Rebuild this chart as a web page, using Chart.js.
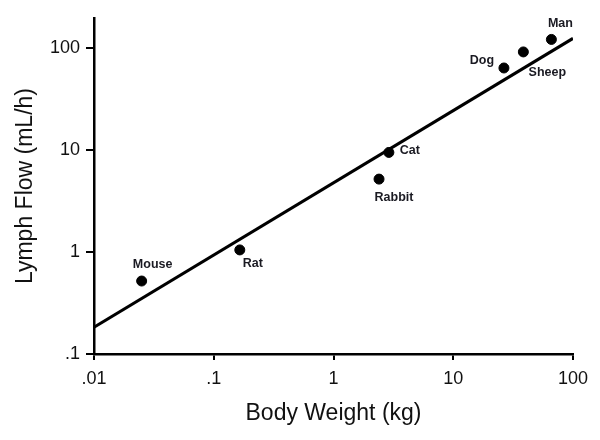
<!DOCTYPE html>
<html>
<head>
<meta charset="utf-8">
<script src="https://cdn.jsdelivr.net/npm/chart.js@4/dist/chart.umd.min.js"></script>
<style>
  html, body { margin: 0; padding: 0; background: #fff; }
  #wrap { width: 600px; height: 440px; }
</style>
</head>
<body>
<div id="wrap"><canvas id="visualization" width="600" height="440"></canvas></div>
<script>
// Species and their values
var species = ['Mouse', 'Rat', 'Rabbit', 'Cat', 'Dog', 'Sheep', 'Man'];
var bodyWeight = [0.025, 0.165, 2.4, 2.9, 26.5, 38.5, 66];   // kg
var lymphFlow = [0.52, 1.05, 5.2, 9.5, 64, 92, 122];          // mL/h

// Regression line end points
var fitX = [0.01, 100];
var fitY = [0.183, 125];

// Tick labels
var xTicks = [0.01, 0.1, 1, 10, 100];
var xTickLabels = ['.01', '.1', '1', '10', '100'];
var yTicks = [0.1, 1, 10, 100];
var yTickLabels = ['.1', '1', '10', '100'];

// where each name sits relative to its dot
var labelOffsets = {
    Mouse: [11, -16], Rat: [13, 14], Rabbit: [15, 18], Cat: [21, -2],
    Dog: [-22, -7], Sheep: [24, 21], Man: [9, -16]
};

var points = species.map(function(s, i) {
    return { x: bodyWeight[i], y: lymphFlow[i] };
});
var fitLine = fitX.map(function(x, i) { return { x: x, y: fitY[i] }; });

var FONT = '"Liberation Sans", Arial, sans-serif';

var pointLabels = {
    id: 'pointLabels',
    afterDatasetsDraw: function(chart) {
        var ctx = chart.ctx;
        var meta = chart.getDatasetMeta(1);
        ctx.save();
        ctx.font = 'bold 12.5px ' + FONT;
        ctx.fillStyle = '#1a1a22';
        ctx.textAlign = 'center';
        ctx.textBaseline = 'middle';
        meta.data.forEach(function(el, i) {
            var off = labelOffsets[species[i]];
            ctx.fillText(species[i], el.x + off[0], el.y + off[1]);
        });
        ctx.restore();
    }
};

function fixTicks(values) {
    return function(scale) {
        scale.ticks = values.map(function(v) { return { value: v }; });
    };
}

var ctx = document.getElementById('visualization').getContext('2d');
var myChart = new Chart(ctx, {
    type: 'scatter',
    data: {
        datasets: [{
            type: 'line',
            data: fitLine,
            borderColor: '#000',
            borderWidth: 3.2,
            pointRadius: 0,
            fill: false
        }, {
            data: points,
            backgroundColor: '#000',
            borderColor: '#000',
            pointRadius: 5,
            pointHoverRadius: 5
        }]
    },
    options: {
        responsive: false,
        animation: false,
        layout: { padding: { top: 18, right: 27, left: 0, bottom: 0 } },
        plugins: {
            legend: { display: false },
            tooltip: { enabled: false }
        },
        scales: {
            x: {
                type: 'logarithmic',
                min: 0.01,
                max: 100,
                afterBuildTicks: fixTicks(xTicks),
                afterFit: function(scale) { scale.height = 86; },
                border: { color: '#000', width: 2.5 },
                grid: { drawOnChartArea: false, drawTicks: true, tickLength: 6, tickColor: '#000', lineWidth: 2 },
                ticks: {
                    autoSkip: false,
                    maxRotation: 0,
                    padding: 8,
                    color: '#111',
                    font: { family: FONT, size: 18 },
                    callback: function(v) {
                        var i = xTicks.indexOf(v);
                        return i >= 0 ? xTickLabels[i] : '';
                    }
                },
                title: {
                    display: true,
                    text: 'Body Weight (kg)',
                    color: '#111',
                    padding: { top: 4, bottom: 13 },
                    font: { family: FONT, size: 23 }
                }
            },
            y: {
                type: 'logarithmic',
                min: 0.1,
                max: 198,
                afterBuildTicks: fixTicks(yTicks),
                afterFit: function(scale) { scale.width = 94; },
                border: { color: '#000', width: 2.5 },
                grid: { drawOnChartArea: false, drawTicks: true, tickLength: 8, tickColor: '#000', lineWidth: 2 },
                ticks: {
                    autoSkip: false,
                    padding: 6,
                    color: '#111',
                    font: { family: FONT, size: 18 },
                    callback: function(v) {
                        var i = yTicks.indexOf(v);
                        return i >= 0 ? yTickLabels[i] : '';
                    }
                },
                title: {
                    display: true,
                    text: 'Lymph Flow (mL/h)',
                    color: '#111',
                    padding: { top: 12, bottom: 0 },
                    font: { family: FONT, size: 23 }
                }
            }
        }
    },
    plugins: [pointLabels]
});
</script>
</body>
</html>
